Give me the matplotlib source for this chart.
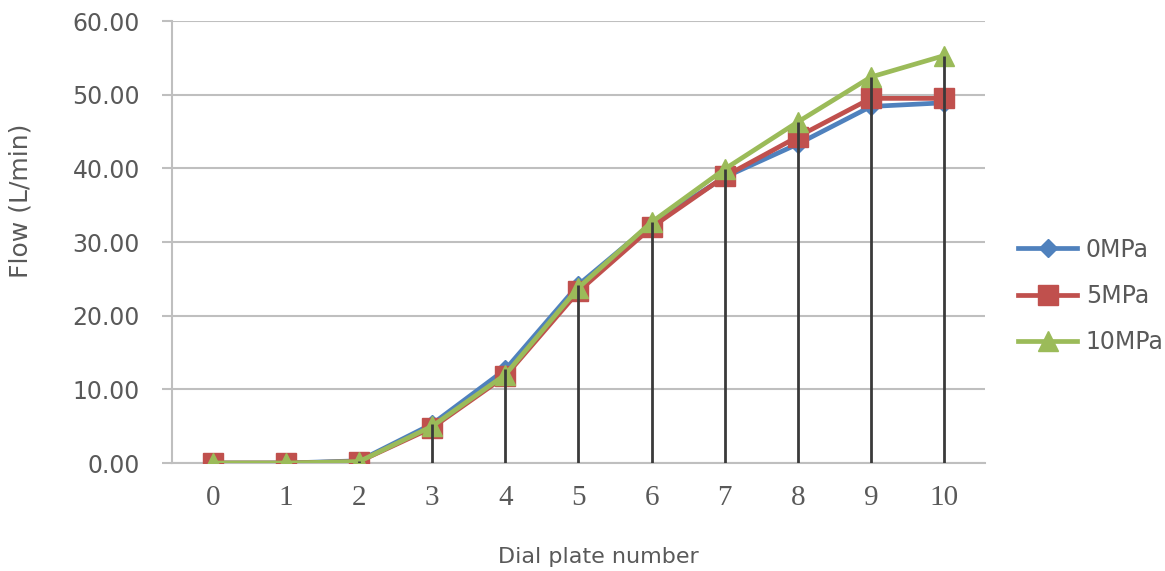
import numpy as np
import matplotlib
matplotlib.use("Agg")
import matplotlib.pyplot as plt

# ── Data ─────────────────────────────────────────────────────────────────────
dial = [0, 1, 2, 3, 4, 5, 6, 7, 8, 9, 10]
flow_0mpa  = [0.0, 0.0, 0.3, 5.3, 12.7, 24.2, 32.5, 38.8, 43.3, 48.4, 48.9]
flow_5mpa  = [0.0, 0.0, 0.2, 4.8, 11.8, 23.3, 32.0, 38.9, 44.3, 49.5, 49.5]
flow_10mpa = [0.0, 0.0, 0.2, 5.0, 12.0, 23.8, 32.7, 39.9, 46.3, 52.4, 55.3]
series_names = ["0MPa", "5MPa", "10MPa"]
y_ticks = [0, 10, 20, 30, 40, 50, 60]

text_grey = "#595959"
grid_grey = "#BFBFBF"

fig = plt.figure(figsize=(11.65, 5.71), dpi=100)
ax = fig.add_axes([0.1476, 0.1891, 0.6979, 0.7741])

# Excel-style drop lines from the top series down to zero
tops = np.max([flow_0mpa, flow_5mpa, flow_10mpa], axis=0)
ax.vlines(dial, 0, tops, color="#3A3A3A", linewidth=2.0, zorder=5)

ax.plot(dial, flow_0mpa, color="#4F81BD", linewidth=3.4, marker="D",
        markersize=9.5, label=series_names[0], zorder=3)
ax.plot(dial, flow_5mpa, color="#C0504D", linewidth=3.4, marker="s",
        markersize=14, label=series_names[1], zorder=3.1)
ax.plot(dial, flow_10mpa, color="#9BBB59", linewidth=3.4, marker="^",
        markersize=14, label=series_names[2], zorder=3.2)

ax.set_xlim(-0.56, 10.56)
ax.set_ylim(0, 60)
ax.set_yticks(y_ticks)
ax.set_yticklabels([f"{v:.2f}" for v in y_ticks])
ax.set_xticks(dial)
ax.set_xticklabels([str(d) for d in dial], family="Liberation Serif",
                   fontsize=21, color=text_grey)

ax.grid(axis="y", color=grid_grey, linewidth=1.5)
ax.set_axisbelow(True)
for side in ["top", "right"]:
    ax.spines[side].set_visible(False)
for side in ["left", "bottom"]:
    ax.spines[side].set_color(grid_grey)
    ax.spines[side].set_linewidth(1.5)
ax.spines["bottom"].set_zorder(2)

ax.tick_params(axis="y", direction="out", length=7, width=1.5, color=grid_grey,
               labelsize=17, labelcolor=text_grey, pad=16)
ax.tick_params(axis="x", length=0, pad=16)

ax.set_xlabel("Dial plate number", fontsize=16, color=text_grey)
ax.xaxis.set_label_coords(0.524, -0.19)
ax.set_ylabel("Flow (L/min)", fontsize=18, color=text_grey)
ax.yaxis.set_label_coords(-0.172, 0.593)

leg = ax.legend(loc="center left", bbox_to_anchor=(1.015, 0.378), frameon=False,
                fontsize=17, labelcolor=text_grey, handlelength=2.5,
                labelspacing=0.95, handletextpad=0.35)

fig.savefig("out.png", dpi=100)
